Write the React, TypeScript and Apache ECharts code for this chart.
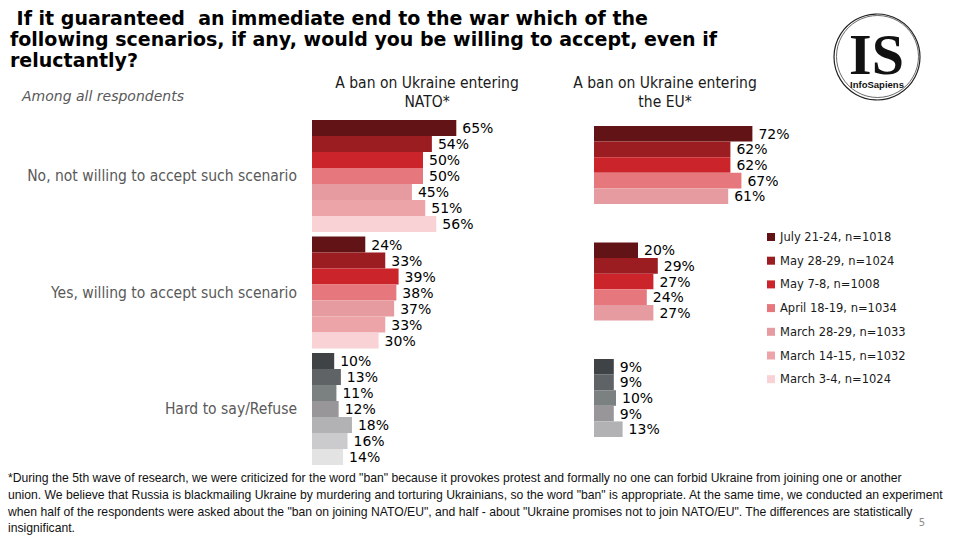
import React, { useEffect, useRef } from "react";
import * as echarts from "echarts";

const categories = [
  "No, not willing to accept such scenario",
  "Yes, willing to accept such scenario",
  "Hard to say/Refuse",
];
const waves = [
  "July 21-24, n=1018",
  "May 28-29, n=1024",
  "May 7-8, n=1008",
  "April 18-19, n=1034",
  "March 28-29, n=1033",
  "March 14-15, n=1032",
  "March 3-4, n=1024",
];
const redColors = ["#611316", "#9b1c21", "#cc242b", "#e6777c", "#e59b9f", "#eca4a8", "#f8d2d4"];
const grayColors = ["#3f4346", "#5f6365", "#7b8181", "#989699", "#b2b2b4", "#cbcbcd", "#e3e3e3"];

// NATO values by category, one entry per wave
const natoNo = [65, 54, 50, 50, 45, 51, 56];
const natoYes = [24, 33, 39, 38, 37, 33, 30];
const natoHard = [10, 13, 11, 12, 18, 16, 14];
// EU values (first five waves only)
const euNo = [72, 62, 62, 67, 61];
const euYes = [20, 29, 27, 24, 27];
const euHard = [9, 9, 10, 9, 13];

const titleLines = [
  " If it guaranteed  an immediate end to the war which of the",
  "following scenarios, if any, would you be willing to accept, even if",
  "reluctantly?",
];
const footnoteLines = [
  '*During the 5th wave of research, we were criticized for the word "ban" because it provokes protest and formally no one can forbid Ukraine from joining one or another',
  'union. We believe that Russia is blackmailing Ukraine by murdering and torturing Ukrainians, so the word "ban" is appropriate. At the same time, we conducted an experiment',
  'when half of the respondents were asked about the "ban on joining NATO/EU", and half - about "Ukraine promises not to join NATO/EU". The differences are statistically',
  "insignificant.",
];

const SANS = "'DejaVu Sans Condensed', 'DejaVu Sans', sans-serif";
const VERD = "'DejaVu Sans', sans-serif";

export default function App() {
  const ref = useRef<HTMLDivElement>(null);
  useEffect(() => {
    if (!ref.current) return;
    const chart = echarts.init(ref.current, null, { renderer: "svg" });

    const mkSeries = (
      i: number,
      vals: number[][],
      axisIndex: number,
      barWidth: number
    ) => ({
      type: "bar",
      name: waves[i],
      xAxisIndex: axisIndex,
      yAxisIndex: axisIndex,
      barWidth,
      barGap: "0%",
      itemStyle: { color: redColors[i] },
      data: [
        { value: vals[0][i] },
        { value: vals[1][i] },
        { value: vals[2][i], itemStyle: { color: grayColors[i] } },
      ],
      label: {
        show: true,
        position: "right",
        distance: 6,
        formatter: "{c}%",
        fontFamily: VERD,
        fontSize: 14,
        color: "#000",
      },
    });

    const series: any[] = [];
    waves.forEach((_, i) => series.push(mkSeries(i, [natoNo, natoYes, natoHard], 0, 16)));
    euNo.forEach((_, i) => series.push(mkSeries(i, [euNo, euYes, euHard], 1, 15.6)));

    const graphics: any[] = [];
    graphics.push({
      type: "text",
      left: 10,
      top: 7,
      style: {
        text: titleLines.join("\n"),
        font: `bold 19px ${VERD}`,
        lineHeight: 21,
        fill: "#000",
      },
    });
    graphics.push({
      type: "text",
      x: 22,
      y: 96,
      style: {
        text: "Among all respondents",
        font: `italic 14px ${VERD}`,
        fill: "#595959",
        verticalAlign: "middle",
      },
    });
    graphics.push({
      type: "text",
      x: 427,
      y: 73,
      style: {
        text: "A ban on Ukraine entering\nNATO*",
        font: `15.5px ${SANS}`,
        lineHeight: 19,
        fill: "#1a1a1a",
        align: "center",
        verticalAlign: "top",
      },
    });
    graphics.push({
      type: "text",
      x: 665,
      y: 73,
      style: {
        text: "A ban on Ukraine entering\nthe EU*",
        font: `15.5px ${SANS}`,
        lineHeight: 19,
        fill: "#1a1a1a",
        align: "center",
        verticalAlign: "top",
      },
    });
    footnoteLines.forEach((t, i) => {
      graphics.push({
        type: "text",
        x: 8,
        y: 478 + i * 16.8,
        scaleX: 0.975,
        style: {
          text: t,
          font: `12.5px 'Liberation Sans', sans-serif`,
          fill: "#111",
          verticalAlign: "middle",
        },
      });
    });
    graphics.push({
      type: "text",
      x: 922,
      y: 522,
      style: { text: "5", font: `10px ${VERD}`, fill: "#8c8c8c", align: "center", verticalAlign: "middle" },
    });
    // logo
    graphics.push({
      type: "circle",
      shape: { cx: 877, cy: 57, r: 43 },
      style: { fill: "none", stroke: "#222", lineWidth: 1.2 },
    });
    graphics.push({
      type: "circle",
      shape: { cx: 877.5, cy: 56.5, r: 41 },
      style: { fill: "none", stroke: "#444", lineWidth: 0.8 },
    });
    graphics.push({
      type: "text",
      x: 876.5,
      y: 54,
      style: {
        text: "IS",
        font: `bold 58px 'Liberation Serif', serif`,
        lineHeight: 40,
        fill: "#111",
        align: "center",
        verticalAlign: "middle",
      },
    });
    graphics.push({
      type: "text",
      x: 877,
      y: 84,
      style: {
        text: "InfoSapiens",
        font: `bold 9.5px 'Liberation Sans', sans-serif`,
        fill: "#111",
        align: "center",
        verticalAlign: "middle",
      },
    });

    chart.setOption({
      animation: false,
      backgroundColor: "#fff",
      grid: [
        { left: 312, top: 117.75, width: 222, height: 349.5 },
        { left: 594, top: 106.75, width: 220, height: 349.5 },
      ],
      xAxis: [
        { type: "value", gridIndex: 0, min: 0, max: 100, show: false },
        { type: "value", gridIndex: 1, min: 0, max: 100, show: false },
      ],
      yAxis: [
        {
          type: "category",
          gridIndex: 0,
          data: categories,
          inverse: true,
          axisLine: { show: false },
          axisTick: { show: false },
          axisLabel: {
            margin: 15,
            fontFamily: SANS,
            fontSize: 15.5,
            color: "#595959",
          },
        },
        {
          type: "category",
          gridIndex: 1,
          data: categories,
          inverse: true,
          axisLine: { show: false },
          axisTick: { show: false },
          axisLabel: { show: false },
        },
      ],
      legend: {
        data: waves,
        orient: "vertical",
        left: 762,
        top: 225,
        icon: "rect",
        itemWidth: 8,
        itemHeight: 8,
        itemGap: 9.7,
        itemTextGap: 3,
        selectedMode: false,
        textStyle: { fontFamily: VERD, fontSize: 11.5, lineHeight: 14, color: "#1a1a1a" },
      },
      graphic: graphics,
      series,
    });
    return () => chart.dispose();
  }, []);
  return <div ref={ref} style={{ position: "fixed", left: 0, top: 0, width: 960, height: 540 }} />;
}
